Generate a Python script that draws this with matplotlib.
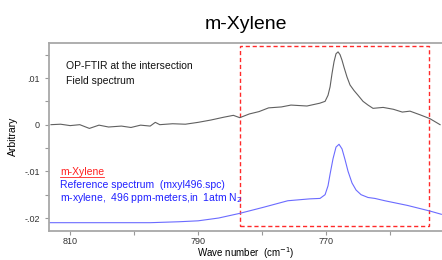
import matplotlib
matplotlib.use("Agg")
import matplotlib.pyplot as plt
from matplotlib.patches import Rectangle

plt.rcParams["font.family"] = ["Liberation Sans", "DejaVu Sans"]

# field spectrum (OP-FTIR)
field_wn = [813.0, 811.5, 810.0, 808.5, 807.0, 805.5, 804.0, 802.0, 800.5, 799.0,
            797.5, 796.7, 796.0, 794.0, 792.0, 790.0, 788.0, 786.0, 784.5, 783.5,
            782.0, 780.5, 779.0, 777.0, 775.5, 773.0, 771.0, 770.17, 769.71, 769.39,
            769.08, 768.77, 768.46, 768.14, 767.83, 767.52, 767.21, 766.74, 766.27, 765.64,
            765.02, 764.24, 763.46, 762.68, 761.1, 759.5, 758.1, 756.9, 755.3, 753.8,
            752.2]
field_abs = [0.0000, 0.0001, -0.0002, 0.0000, -0.0008, -0.0001, -0.0005, -0.0003, -0.0006, -0.0001,
             -0.0003, 0.0005, 0.0000, 0.0002, 0.0001, 0.0005, 0.0010, 0.0016, 0.0020, 0.0015,
             0.0023, 0.0028, 0.0036, 0.0038, 0.0042, 0.0040, 0.0046, 0.0050, 0.0063, 0.0081,
             0.0110, 0.0135, 0.0152, 0.0156, 0.0150, 0.0138, 0.0123, 0.0102, 0.0085, 0.0073,
             0.0063, 0.0050, 0.0042, 0.0035, 0.0037, 0.0033, 0.0027, 0.0029, 0.0021, 0.0013,
             0.0000]

# reference spectrum (mxyl496.spc)
ref_wn = [813.2, 797.5, 793.0, 790.0, 786.8, 783.5, 779.8, 776.0, 772.6, 770.96,
          770.17, 769.71, 769.39, 768.93, 768.46, 767.99, 767.52, 767.05, 766.58, 765.96,
          765.33, 764.55, 763.46, 762.39, 760.83, 757.3, 753.8, 752.0]
ref_abs = [-0.0210, -0.0210, -0.0208, -0.0206, -0.0200, -0.0190, -0.0177, -0.0163, -0.0159, -0.0158,
           -0.0150, -0.0131, -0.0106, -0.0073, -0.0048, -0.0042, -0.0052, -0.0075, -0.0100, -0.0125,
           -0.0140, -0.0150, -0.0156, -0.0158, -0.0163, -0.0173, -0.0185, -0.0192]

x_ticks = [810, 800, 790, 780, 770, 760]
x_tick_labels = ["810", "", "790", "", "770", ""]
y_ticks = [0.015, 0.01, 0.005, 0.0, -0.005, -0.01, -0.015, -0.02]
y_tick_labels = ["", ".01", "", "0", "", "-.01", "", "-.02"]

# highlighted region
box_wn = (783.5, 753.9)
box_abs = (-0.0217, 0.0169)

fig = plt.figure(figsize=(4.42, 2.6), dpi=100)
ax = fig.add_axes([0.111, 0.113, 0.889, 0.7216])

ax.plot(field_wn, field_abs, color="#606060", lw=0.8)
ax.plot(ref_wn, ref_abs, color="#6b6bff", lw=0.8)

ax.add_patch(Rectangle((box_wn[0], box_abs[0]), box_wn[1] - box_wn[0], box_abs[1] - box_abs[0],
                       fill=False, edgecolor="#ff2a2a", ls=(0, (3, 2)), lw=1.0))

ax.set_xlim(813.3, 751.9)
ax.set_ylim(-0.0227, 0.0175)
ax.set_xticks(x_ticks)
ax.set_xticklabels(x_tick_labels)
ax.set_yticks(y_ticks)
ax.set_yticklabels(y_tick_labels)
ax.tick_params(labelsize=6.5, labelcolor="#333333", color="#999999", length=3, width=0.8)
ax.tick_params(axis="x", pad=1.5)

for side in ["left", "bottom", "top"]:
    ax.spines[side].set_color("#a8a8a8")
    ax.spines[side].set_linewidth(1.3)
ax.spines["right"].set_visible(False)

ax.set_title("m-Xylene", fontsize=14, pad=10)
ax.set_ylabel("Arbitrary", fontsize=7.5, labelpad=5)
ax.set_xlabel("Wave number  (cm$^{-1}$)", fontsize=7)
ax.xaxis.set_label_coords(0.5, -0.076)

ax.text(810.6, 0.0125, "OP-FTIR at the intersection", fontsize=7.5, va="center", color="#111111")
ax.text(810.6, 0.0094, "Field spectrum", fontsize=7.5, va="center", color="#111111")

lbl = ax.text(811.6, -0.0102, "m-Xylene", fontsize=7.5, va="center", color="#ff2020")
ax.text(811.6, -0.0129, "Reference spectrum  (mxyl496.spc)", fontsize=7.5, va="center", color="#2020ff")
ax.text(811.6, -0.0158, "m-xylene,  496 ppm-meters,in  1atm N$_2$", fontsize=7.5, va="center",
        color="#2020ff")

# underline the red label
fig.canvas.draw()
bb = lbl.get_window_extent().transformed(ax.transData.inverted())
ax.plot([bb.x0, bb.x1], [bb.y0, bb.y0], color="#ff2020", lw=0.6)

fig.savefig("out.png", dpi=100)
